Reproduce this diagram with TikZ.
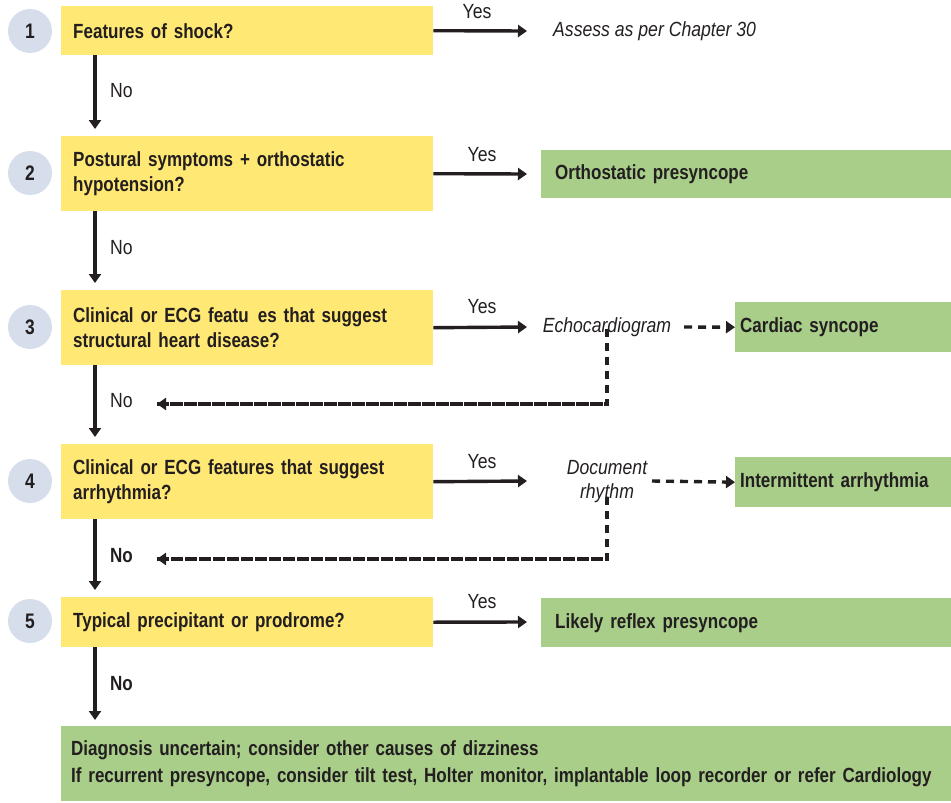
\documentclass[tikz,border=0pt]{standalone}
\usepackage{fontspec}
\setmainfont[FakeStretch=0.83]{Liberation Sans}
\newfontfamily\regfam[FakeStretch=0.86]{Liberation Sans}
\usetikzlibrary{arrows.meta}
\definecolor{qyellow}{HTML}{FFE873}
\definecolor{qgreen}{HTML}{A9CE8A}
\definecolor{qcirc}{HTML}{D6DDEB}
\definecolor{qtext}{HTML}{231F20}
\tikzset{
  txt/.style={font=\regfam\fontsize{20.5}{24}\selectfont, text=qtext, inner sep=0pt},
  btxt/.style={font=\fontsize{20.5}{24}\selectfont\bfseries, text=qtext, inner sep=0pt},
  itxt/.style={font=\regfam\fontsize{20.5}{24}\selectfont\itshape, text=qtext, inner sep=0pt, align=center},
  qbox/.style={fill=qyellow, draw=none, anchor=north west, minimum width=372pt, text width=348pt, inner xsep=12pt, inner ysep=0pt, align=left, font=\fontsize{20.5}{25.5}\selectfont\bfseries, text=qtext},
  gbox/.style={fill=qgreen, draw=none, anchor=north west, align=left, inner ysep=0pt, font=\fontsize{20.5}{27}\selectfont\bfseries, text=qtext},
  circ/.style={circle, fill=qcirc, draw=none, minimum size=44pt, inner sep=0pt, font=\fontsize{21}{21}\selectfont\bfseries, text=qtext},
  arr/.style={draw=qtext, line width=3.4pt, -{Triangle[length=9pt,width=12pt]}},
  darr/.style={draw=qtext, line width=3.4pt, dash pattern=on 8pt off 6pt, -{Triangle[length=9pt,width=12pt]}},
  dline/.style={draw=qtext, line width=3.4pt, dash pattern=on 8pt off 6pt}
}
\begin{document}
\begin{tikzpicture}[x=1pt,y=-1pt]
\useasboundingbox (0,0) rectangle (951,803);

% step circles
\node[circ] (n1) at (30,31) {1};
\node[circ] (n2) at (30,173) {2};
\node[circ] (n3) at (30,327) {3};
\node[circ] (n4) at (30,481) {4};
\node[circ] (n5) at (30,621) {5};

% question boxes
\node[qbox, minimum height=49pt] (q1) at (61,6) {Features of shock?};
\node[qbox, minimum height=75pt] (q2) at (61,136) {Postural symptoms + orthostatic\\hypotension?};
\node[qbox, minimum height=75pt] (q3) at (61,290) {Clinical or ECG featu\hspace{0.45em}es that suggest\\structural heart disease?};
\node[qbox, minimum height=75pt] (q4) at (61,444) {Clinical or ECG features that suggest\\arrhythmia?};
\node[qbox, minimum height=50pt] (q5) at (61,597) {Typical precipitant or prodrome?};

% outcomes
\node[itxt, anchor=west] (a1) at (553,31) {Assess as per Chapter 30};
\node[gbox, minimum width=410pt, minimum height=48pt, text width=382pt, inner xsep=14pt] (g2) at (541,150) {Orthostatic presyncope};
\node[itxt] (e3) at (607,327) {Echocardiogram};
\node[gbox, minimum width=216pt, minimum height=50pt, text width=206pt, inner xsep=5pt] (g3) at (735,302) {Cardiac syncope};
\node[itxt] (e4) at (607,482) {Document\\rhythm};
\node[gbox, minimum width=216pt, minimum height=50pt, text width=206pt, inner xsep=5pt] (g4) at (735,457) {Intermittent arrhythmia};
\node[gbox, minimum width=410pt, minimum height=49pt, text width=382pt, inner xsep=14pt] (g5) at (541,598) {Likely reflex presyncope};
\node[gbox, minimum width=890pt, minimum height=75pt, text width=870pt, inner xsep=10pt] (g6) at (61,726) {Diagnosis uncertain; consider other causes of dizziness\\\makebox[870pt][l]{If recurrent presyncope, consider tilt test, Holter monitor, implantable loop recorder or refer Cardiology}};

% yes arrow ends
\coordinate (y1) at (527,31);
\coordinate (y2) at (527,174);
\coordinate (y3) at (527,327);
\coordinate (y4) at (527,481);
\coordinate (y5) at (527,622);

\draw[arr] (q1.east) -- (y1);
\draw[arr] (q2.east) -- (y2);
\draw[arr] (q3.east) -- (y3);
\draw[arr] (q4.east) -- (y4);
\draw[arr] (q5.east) -- (y5);

\node[txt] (l1) at (477,12) {Yes};
\node[txt] (l2) at (482,155) {Yes};
\node[txt] (l3) at (482,307) {Yes};
\node[txt] (l4) at (482,462) {Yes};
\node[txt] (l5) at (482,602) {Yes};

% down arrows
\draw[arr, shorten >=7pt] ([xshift=34pt]q1.south west) -- ([xshift=34pt]q2.north west);
\draw[arr, shorten >=7pt] ([xshift=34pt]q2.south west) -- ([xshift=34pt]q3.north west);
\draw[arr, shorten >=7pt] ([xshift=34pt]q3.south west) -- ([xshift=34pt]q4.north west);
\draw[arr, shorten >=7pt] ([xshift=34pt]q4.south west) -- ([xshift=34pt]q5.north west);
\draw[arr, shorten >=6pt] ([xshift=34pt]q5.south west) -- ([xshift=34pt]g6.north west);

\node[txt, anchor=west] (m1) at (110,91) {No};
\node[txt, anchor=west] (m2) at (110,248) {No};
\node[txt, anchor=west] (m3) at (110,401) {No};
\node[btxt, anchor=west] (m4) at (110,556) {No};
\node[btxt, anchor=west] (m5) at (110,684) {No};

% dashed connectors
\coordinate (d3) at (157,404);
\coordinate (d4) at (157,559);
\coordinate (s3) at (684,327);
\coordinate (s4) at (652,481);
\draw[darr] (s3) -- (g3.west);
\draw[darr] (s4) -- (g4.west);
\draw[dline] ([yshift=8pt]e3.south) |- (d3);
\draw[darr] (d3 -| e3.south) ++(-4pt,0) -- (d3);
\draw[dline] ([yshift=6pt]e4.south) |- (d4);
\draw[darr] (d4 -| e4.south) ++(-4pt,0) -- (d4);
\end{tikzpicture}
\end{document}
